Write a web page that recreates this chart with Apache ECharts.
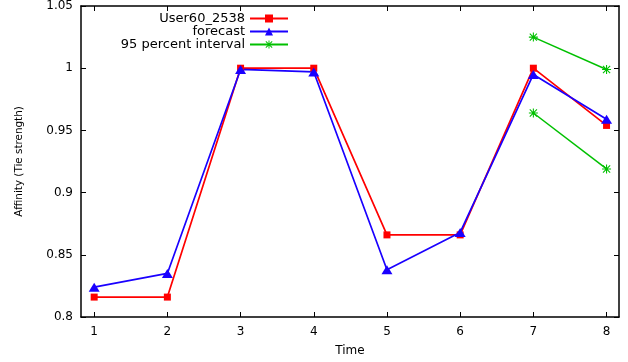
<!DOCTYPE html>
<html>
<head>
<meta charset="utf-8">
<script src="https://cdn.jsdelivr.net/npm/echarts@6/dist/echarts.min.js"></script>
<style>
  html, body { margin: 0; padding: 0; background: #fff; }
  #chart { width: 628px; height: 362px; }
</style>
</head>
<body>
<div id="chart"></div>
<script>
// time steps on the x axis
var timeSteps = [1, 2, 3, 4, 5, 6, 7, 8];
// observed affinity
var userValues = [0.816, 0.816, 1.0, 1.0, 0.866, 0.866, 1.0, 0.954];
// forecast affinity
var forecastValues = [0.824, 0.835, 0.999, 0.997, 0.838, 0.868, 0.995, 0.959];
// 95 percent interval, only for steps 7 and 8
var intervalSteps = [7, 8];
var intervalUpper = [1.025, 0.999];
var intervalLower = [0.964, 0.919];
var yTicks = [0.8, 0.85, 0.9, 0.95, 1, 1.05];

var FONT = 'DejaVu Sans';
var star = 'path://M4.4,0h1.2v10h-1.2z M0,4.4h10v1.2h-10z M0.6,1.45L1.45,0.6L9.4,8.55L8.55,9.4Z M8.55,0.6L9.4,1.45L1.45,9.4L0.6,8.55Z';

function pairs(xs, ys) {
  return xs.map(function (x, i) { return [x, ys[i]]; });
}

var chart = echarts.init(document.getElementById('chart'));

var tickStyle = { show: true, inside: true, length: 5, lineStyle: { color: '#000', width: 1 } };

var option = {
  animation: false,
  backgroundColor: '#fff',
  textStyle: { fontFamily: FONT },
  grid: { left: 81, right: 9, top: 6, bottom: 44 },
  legend: {
    right: 334,
    top: 7,
    orient: 'vertical',
    align: 'right',
    itemGap: 0,
    itemWidth: 38,
    itemHeight: 10,
    textStyle: { fontFamily: FONT, fontSize: 13, color: '#000' },
    data: ['User60_2538', 'forecast', '95 percent interval']
  },
  xAxis: [{
    type: 'value',
    min: 0.82,
    max: 8.17,
    name: 'Time',
    nameLocation: 'middle',
    nameGap: 28,
    nameTextStyle: { fontFamily: FONT, fontSize: 12, color: '#000' },
    axisLine: { lineStyle: { color: '#000', width: 1.5 } },
    axisTick: Object.assign({ customValues: timeSteps }, tickStyle),
    axisLabel: { customValues: timeSteps, margin: 9, fontFamily: FONT, fontSize: 12, color: '#000' },
    splitLine: { show: false }
  }, {
    type: 'value',
    position: 'top',
    min: 0.82,
    max: 8.17,
    axisLine: { lineStyle: { color: '#000', width: 1.5 } },
    axisTick: Object.assign({ customValues: timeSteps }, tickStyle),
    axisLabel: { show: false },
    splitLine: { show: false }
  }],
  yAxis: [{
    type: 'value',
    min: 0.8,
    max: 1.05,
    interval: 0.05,
    name: 'Affinity (Tie strength)',
    nameLocation: 'middle',
    nameGap: 57,
    nameTextStyle: { fontFamily: FONT, fontSize: 10.4, color: '#000' },
    axisLine: { show: true, lineStyle: { color: '#000', width: 1.5 } },
    axisTick: Object.assign({ customValues: yTicks }, tickStyle),
    axisLabel: {
      customValues: yTicks,
      margin: 8,
      fontFamily: FONT, fontSize: 12, color: '#000',
      formatter: function (v) { return String(parseFloat(v.toFixed(2))); }
    },
    splitLine: { show: false }
  }, {
    type: 'value',
    position: 'right',
    min: 0.8,
    max: 1.05,
    interval: 0.05,
    axisLine: { show: true, lineStyle: { color: '#000', width: 1.5 } },
    axisTick: Object.assign({ customValues: yTicks }, tickStyle),
    axisLabel: { show: false },
    splitLine: { show: false }
  }],
  series: [{
    name: 'User60_2538',
    type: 'line',
    data: pairs(timeSteps, userValues),
    symbol: 'rect',
    symbolSize: 7,
    color: '#ff0000',
    lineStyle: { width: 1.7, color: '#ff0000' },
    itemStyle: { color: '#ff0000' }
  }, {
    name: 'forecast',
    type: 'line',
    data: pairs(timeSteps, forecastValues),
    symbol: 'triangle',
    symbolSize: [11, 9],
    color: '#1a00ff',
    lineStyle: { width: 1.7, color: '#1a00ff' },
    itemStyle: { color: '#1a00ff' }
  }, {
    name: '95 percent interval',
    type: 'line',
    data: pairs(intervalSteps, intervalUpper),
    symbol: star,
    symbolSize: 9,
    color: '#00c000',
    lineStyle: { width: 1.5, color: '#00c000' },
    itemStyle: { color: '#00c000' }
  }, {
    name: '95 percent interval',
    type: 'line',
    data: pairs(intervalSteps, intervalLower),
    symbol: star,
    symbolSize: 9,
    color: '#00c000',
    lineStyle: { width: 1.5, color: '#00c000' },
    itemStyle: { color: '#00c000' }
  }]
};

chart.setOption(option);
</script>
</body>
</html>
